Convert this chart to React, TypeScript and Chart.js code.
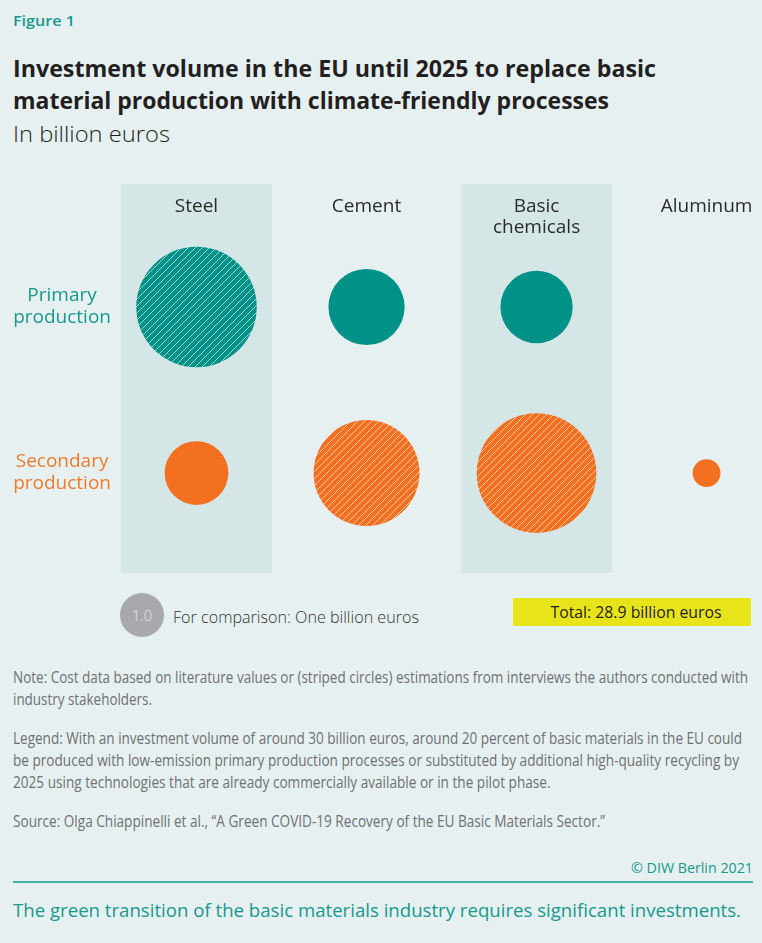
import React, { useEffect, useLayoutEffect, useRef } from 'react';
import { Chart, registerables } from 'chart.js';

Chart.register(...registerables);

// ---------- data ----------
const categories: (string | string[])[] = ['Steel', 'Cement', ['Basic', 'chemicals'], 'Aluminum'];
const rowLabels: string[][] = [['Primary', 'production'], ['Secondary', 'production']];
const primaryValues: (number | null)[] = [7.5, 3.0, 2.7, null];
const secondaryValues: (number | null)[] = [2.1, 5.8, 7.4, 0.4];
const primaryStriped: boolean[] = [true, false, false, false];
const secondaryStriped: boolean[] = [false, true, true, false];
const comparisonValue = 1.0;
const totalValue = 28.9;

// ---------- styles ----------
const BG = '#e6f0f1';
const BAND = '#d4e6e6';
const TEAL = '#009187';
const ORANGE = '#f37021';
const TEAL_TEXT = '#17998d';
const ORANGE_TEXT = '#f07a2c';
const DARK = '#231f20';
const NOTE = '#6f7073';
const PX_PER_SQRT = 22; // bubble radius (px) for 1 billion euros
const BAND_HALF = 0.444;
const FONT = '"Open Sans", "Noto Sans", sans-serif';

type TP = {
  text: string; x: number; baseline: number; size: number; width?: number;
  align?: 'left' | 'right' | 'center'; color: string; weight?: number;
};

function T({ text, x, baseline, size, width, align = 'left', color, weight = 400 }: TP) {
  const ref = useRef<HTMLDivElement>(null);
  useLayoutEffect(() => {
    const el = ref.current;
    if (!el) return;
    const apply = () => {
      el.style.transform = 'none';
      const w = el.getBoundingClientRect().width;
      const k = width ? width / w : 1;
      const shift = align === 'left' ? 0 : align === 'right' ? -w * k : (-w * k) / 2;
      el.style.transform = `translateX(${shift}px) scaleX(${k})`;
    };
    apply();
    (document as any).fonts?.ready?.then(apply);
  }, [text, width, align]);
  return (
    <div
      ref={ref}
      style={{
        position: 'absolute', left: x, top: baseline - 0.888 * size, fontSize: size,
        lineHeight: `${size}px`, whiteSpace: 'nowrap', fontFamily: FONT, fontWeight: weight,
        color, transformOrigin: '0 0', display: 'inline-block',
      }}
    >
      {text}
    </div>
  );
}

function makePattern(color: string): CanvasPattern | string {
  const s = 7;
  const c = document.createElement('canvas');
  c.width = s; c.height = s;
  const g = c.getContext('2d');
  if (!g) return color;
  g.fillStyle = color;
  g.fillRect(0, 0, s, s);
  g.strokeStyle = 'rgba(255,255,255,0.6)';
  g.lineWidth = 1;
  g.beginPath();
  g.moveTo(0, s); g.lineTo(s, 0);
  g.moveTo(-1, 1); g.lineTo(1, -1);
  g.moveTo(s - 1, s + 1); g.lineTo(s + 1, s - 1);
  g.stroke();
  const p = g.createPattern(c, 'repeat');
  return p || color;
}

function BubbleChart() {
  const ref = useRef<HTMLCanvasElement>(null);
  useEffect(() => {
    if (!ref.current) return;
    const tealPat = makePattern(TEAL);
    const orangePat = makePattern(ORANGE);
    const toData = (vals: (number | null)[], row: number) =>
      vals
        .map((v, i) => (v == null ? null : { x: i, y: row, r: PX_PER_SQRT * Math.sqrt(v) }))
        .filter((d) => d !== null) as { x: number; y: number; r: number }[];
    const fills = (vals: (number | null)[], striped: boolean[], solid: string, pat: any) =>
      vals
        .map((v, i) => (v == null ? null : striped[i] ? pat : solid))
        .filter((d) => d !== null);

    const bandPlugin = {
      id: 'bands',
      beforeDraw(chart: any) {
        const { ctx, chartArea, scales } = chart;
        const x = scales.x;
        ctx.save();
        ctx.fillStyle = BAND;
        categories.forEach((_, i) => {
          if (i % 2 !== 0) return;
          const l = x.getPixelForValue(i - BAND_HALF);
          const r = x.getPixelForValue(i + BAND_HALF);
          ctx.fillRect(l, x.top, r - l, chartArea.bottom - x.top);
        });
        ctx.restore();
      },
    };

    const chart = new Chart(ref.current, {
      type: 'bubble',
      data: {
        datasets: [
          {
            label: 'Primary production',
            data: toData(primaryValues, 0),
            backgroundColor: fills(primaryValues, primaryStriped, TEAL, tealPat) as any,
            borderWidth: 0,
            hoverRadius: 0,
            clip: false as any,
          },
          {
            label: 'Secondary production',
            data: toData(secondaryValues, 1),
            backgroundColor: fills(secondaryValues, secondaryStriped, ORANGE, orangePat) as any,
            borderWidth: 0,
            hoverRadius: 0,
            clip: false as any,
          },
        ],
      },
      options: {
        animation: false,
        responsive: false,
        events: [],
        layout: { autoPadding: false, padding: { top: 14, bottom: 7, left: 0, right: 0 } },
        plugins: { legend: { display: false }, tooltip: { enabled: false } },
        scales: {
          x: {
            type: 'linear',
            position: 'top',
            min: -BAND_HALF,
            max: 3.326,
            grid: { display: false, drawTicks: false },
            border: { display: false },
            afterBuildTicks: (scale: any) => {
              scale.ticks = categories.map((_, i) => ({ value: i }));
            },
            afterFit: (scale: any) => {
              scale.height = 56;
            },
            ticks: {
              autoSkip: false,
              maxRotation: 0,
              minRotation: 0,
              crossAlign: 'far',
              padding: 2,
              color: '#2b2b2b',
              font: { family: FONT, size: 19, lineHeight: 21 / 19 },
              callback: (_v: any, i: number) => categories[i] as any,
            },
          },
          y: {
            type: 'linear',
            position: 'left',
            reverse: true,
            min: -0.4036,
            max: 1.602,
            grid: { display: false, drawTicks: false },
            border: { display: false },
            afterBuildTicks: (scale: any) => {
              scale.ticks = rowLabels.map((_, i) => ({ value: i }));
            },
            afterFit: (scale: any) => {
              scale.width = 121;
              scale.paddingTop = 0;
              scale.paddingBottom = 0;
            },
            ticks: {
              autoSkip: false,
              crossAlign: 'center',
              padding: 10,
              color: (ctx: any) => (ctx.index === 0 ? TEAL_TEXT : ORANGE_TEXT),
              font: { family: FONT, size: 19, lineHeight: 22 / 19 },
              callback: (_v: any, i: number) => rowLabels[i] as any,
            },
          },
        },
      },
      plugins: [bandPlugin],
    });
    return () => chart.destroy();
  }, []);
  return (
    <canvas
      ref={ref}
      width={762}
      height={410}
      style={{ position: 'absolute', left: 0, top: 170, width: 762, height: 410 }}
    />
  );
}

export default function App() {
  useLayoutEffect(() => {
    document.body.style.margin = '0';
    document.body.style.background = BG;
  }, []);
  const compR = PX_PER_SQRT * Math.sqrt(comparisonValue);
  return (
    <div style={{ position: 'relative', width: 762, height: 943, background: BG, overflow: 'hidden', fontFamily: FONT }}>
      <T text="Figure 1" x={13} baseline={26.7} size={15} width={62} color={TEAL_TEXT} weight={600} />
      <T text="Investment volume in the EU until 2025 to replace basic" x={13} baseline={77.3} size={23} width={643} color={DARK} weight={700} />
      <T text="material production with climate-friendly processes" x={13} baseline={109.5} size={23} width={596} color={DARK} weight={700} />
      <T text="In billion euros" x={13} baseline={141.7} size={22} width={157} color={DARK} weight={300} />

      <BubbleChart />

      <div
        style={{
          position: 'absolute', left: 142 - compR, top: 615 - compR, width: compR * 2, height: compR * 2,
          borderRadius: '50%', background: '#a7a9ac', color: '#e6e6e6', fontSize: 15, fontWeight: 300,
          display: 'flex', alignItems: 'center', justifyContent: 'center', fontFamily: FONT,
        }}
      >
        {comparisonValue.toFixed(1)}
      </div>
      <T text="For comparison: One billion euros" x={173} baseline={623.5} size={17} width={246} color="#333333" weight={300} />
      <div style={{ position: 'absolute', left: 513, top: 598, width: 238, height: 28, background: '#e8e41a' }} />
      <T text={`Total: ${totalValue} billion euros`} x={635.5} baseline={618} size={16} width={171} align="center" color={DARK} weight={400} />

      <T text="Note: Cost data based on literature values or (striped circles) estimations from interviews the authors conducted with" x={13} baseline={683.3} size={15.5} width={735} color={NOTE} />
      <T text="industry stakeholders." x={13} baseline={705.7} size={15.5} width={139} color={NOTE} />
      <T text="Legend: With an investment volume of around 30 billion euros, around 20 percent of basic materials in the EU could" x={13} baseline={744.3} size={15.5} width={729} color={NOTE} />
      <T text="be produced with low-emission primary production processes or substituted by additional high-quality recycling by" x={13} baseline={766.3} size={15.5} width={726} color={NOTE} />
      <T text="2025 using technologies that are already commercially available or in the pilot phase." x={13} baseline={789} size={15.5} width={537.5} color={NOTE} />
      <T text="Source: Olga Chiappinelli et al., “A Green COVID-19 Recovery of the EU Basic Materials Sector.”" x={13} baseline={827.3} size={15.5} width={592} color={NOTE} />

      <T text="© DIW Berlin 2021" x={752.7} baseline={873.3} size={14} width={122} align="right" color={TEAL_TEXT} />
      <div style={{ position: 'absolute', left: 13, top: 880.5, width: 740, height: 2, background: '#4db0a7' }} />
      <T text="The green transition of the basic materials industry requires significant investments." x={13} baseline={918.3} size={19} width={728} color={TEAL_TEXT} />
    </div>
  );
}
